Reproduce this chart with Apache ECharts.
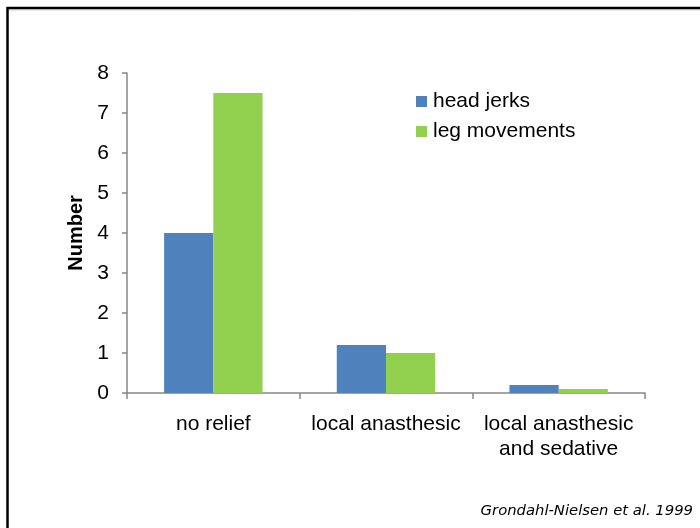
<!DOCTYPE html>
<html>
<head>
<meta charset="utf-8">
<script src="https://cdn.jsdelivr.net/npm/echarts@6/dist/echarts.min.js"></script>
<style>html,body{margin:0;padding:0;background:#fff;}#c{width:700px;height:528px;}</style>
</head>
<body>
<div id="c"></div>
<script>
const categories = ['no relief', 'local anasthesic', 'local anasthesic\nand sedative'];
const headJerks = [4, 1.2, 0.2];
const legMovements = [7.5, 1.0, 0.1];
const yTicks = [0, 1, 2, 3, 4, 5, 6, 7, 8];
const seriesNames = ['head jerks', 'leg movements'];
const citation = 'Grondahl-Nielsen et al. 1999';

const chart = echarts.init(document.getElementById('c'), null, {renderer: 'canvas'});
const font = 'Liberation Sans, Arial, sans-serif';
chart.setOption({
  animation: false,
  backgroundColor: '#fff',
  grid: {left: 127, right: 55, top: 73, bottom: 135},
  legend: {
    data: seriesNames,
    orient: 'vertical',
    left: 416,
    top: 91,
    padding: 0,
    itemWidth: 11,
    itemHeight: 11,
    itemGap: 9,
    icon: 'rect',
    textStyle: {fontFamily: font, fontSize: 21, lineHeight: 21, color: '#000', padding: [0, 0, 0, 1]}
  },
  xAxis: {
    type: 'category',
    data: categories,
    axisLine: {lineStyle: {color: '#888', width: 1.5}},
    axisTick: {show: true, alignWithLabel: false, length: 6, lineStyle: {color: '#888', width: 1.5}},
    axisLabel: {fontFamily: font, fontSize: 21, color: '#000', margin: 19, lineHeight: 25, interval: 0}
  },
  yAxis: {
    type: 'value',
    min: yTicks[0],
    max: yTicks[yTicks.length - 1],
    interval: 1,
    name: 'Number',
    nameLocation: 'middle',
    nameGap: 41,
    nameTextStyle: {fontFamily: font, fontSize: 20, fontWeight: 'bold', color: '#000'},
    splitLine: {show: false},
    axisLine: {show: true, lineStyle: {color: '#888', width: 1.5}},
    axisTick: {show: true, length: 5, lineStyle: {color: '#888', width: 1.5}},
    axisLabel: {fontFamily: font, fontSize: 21, color: '#000', margin: 18}
  },
  series: [
    {name: seriesNames[0], type: 'bar', data: headJerks, itemStyle: {color: '#4F81BD'}, barGap: '0%', barCategoryGap: '43%'},
    {name: seriesNames[1], type: 'bar', data: legMovements, itemStyle: {color: '#92D050'}, barGap: '0%', barCategoryGap: '43%'}
  ],
  graphic: [
    {type: 'rect', shape: {x: 7.5, y: 8, width: 800, height: 800}, style: {fill: 'none', stroke: '#000', lineWidth: 2.5}, silent: true},
    {type: 'line', shape: {x1: 9, y1: 9.8, x2: 700, y2: 9.8}, style: {stroke: '#aaa', lineWidth: 1}, silent: true},
    {type: 'text', right: 7, top: 504, style: {text: citation, font: 'italic 14.8px DejaVu Sans, sans-serif', fill: '#000'}}
  ]
});
</script>
</body>
</html>
